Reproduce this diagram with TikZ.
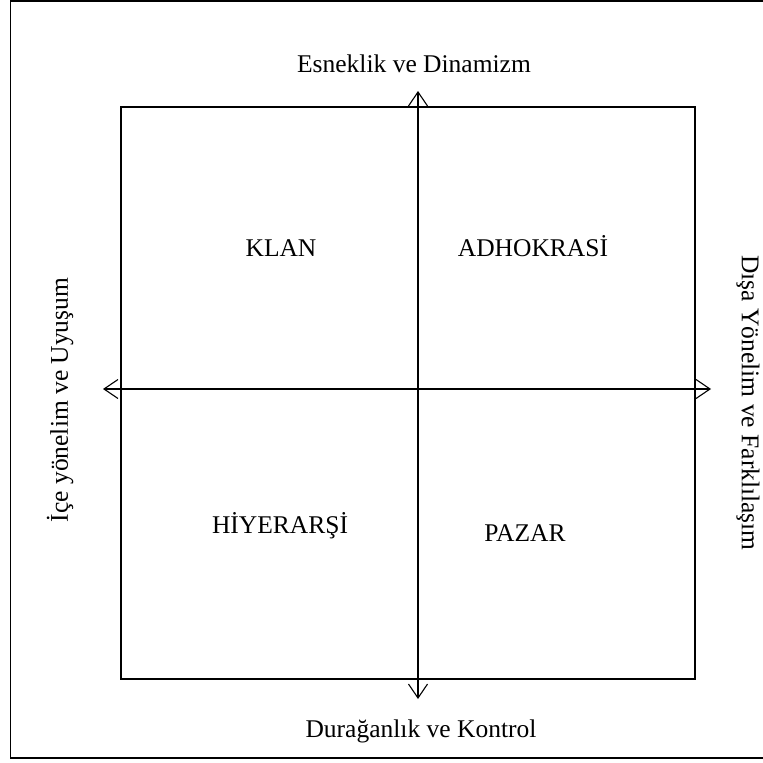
\documentclass[tikz,border=0pt]{standalone}
\usepackage{fontspec}
\setmainfont{Liberation Serif}
\usetikzlibrary{arrows.meta}
\begin{document}
\begin{tikzpicture}[x=1pt,y=-1pt,
  label/.style={inner sep=0pt,font=\fontsize{25.5}{28}\selectfont},
  quad/.style={draw=black,line width=1.3pt},
  axis/.style={draw=black,line width=1.3pt,
    {Straight Barb[length=14pt,width=19pt,line width=1.1pt]}-{Straight Barb[length=14pt,width=19pt,line width=1.1pt]}}]
  \useasboundingbox (0,0) rectangle (763,763);
  \clip (0,0) rectangle (763,763);
  % outer frame
  \draw[line width=1.6pt] (10.5,1) rectangle (790,758);
  % the four-quadrant box
  \draw[quad] (121,107) rectangle (695,679);
  % axis end points
  \coordinate (ntip) at (418,91);
  \coordinate (stip) at (418,699);
  \coordinate (wtip) at (103,389);
  \coordinate (etip) at (711,389);
  \draw[axis] (stip) -- (ntip);
  \draw[axis] (wtip) -- (etip);
  % axis labels
  \node[label] (top) at (414,64) {Esneklik ve Dinamizm};
  \node[label] (bottom) at (421,731) {Durağanlık ve Kontrol};
  \node[label,rotate=90] (left) at (60,400) {İçe yönelim ve Uyuşum};
  \node[label,rotate=-90] (right) at (748,403) {Dışa Yönelim ve Farklılaşım};
  % quadrant labels
  \node[label] (klan) at (281,248) {KLAN};
  \node[label] (adho) at (533,246) {ADHOKRASİ};
  \node[label] (hiy) at (280,526) {HİYERARŞİ};
  \node[label] (pazar) at (525,533) {PAZAR};
\end{tikzpicture}
\end{document}
